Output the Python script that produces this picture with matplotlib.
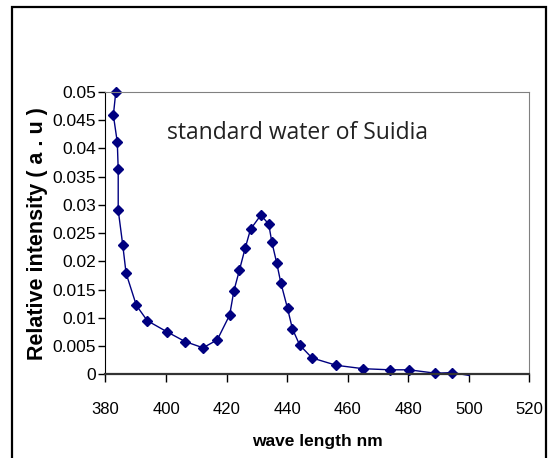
import matplotlib
matplotlib.use("Agg")
import matplotlib.pyplot as plt
from matplotlib.patches import Rectangle

# wavelength (nm) and relative intensity
wavelength = [383.4, 382.6, 383.9, 384.2, 384.2, 385.7, 386.8, 390.2, 393.8, 400.4,
              406.3, 412.2, 416.9, 421.0, 422.4, 424.2, 426.1, 427.9, 431.3, 433.9,
              434.9, 436.5, 437.9, 440.1, 441.7, 444.1, 448.2, 456.2, 465.0, 473.9,
              480.2, 488.9, 494.5, 500.1]
intensity = [0.0500, 0.0459, 0.0411, 0.0363, 0.0291, 0.0229, 0.0179, 0.0122, 0.0095, 0.0075,
             0.0058, 0.0047, 0.0061, 0.0105, 0.0148, 0.0184, 0.0223, 0.0257, 0.0282, 0.0266,
             0.0235, 0.0198, 0.0162, 0.0117, 0.0081, 0.0052, 0.0029, 0.0016, 0.0010, 0.0008,
             0.0008, 0.0002, 0.0003, -0.0002]

x_ticks = [380, 400, 420, 440, 460, 480, 500, 520]
y_ticks = [0, 0.005, 0.01, 0.015, 0.02, 0.025, 0.03, 0.035, 0.04, 0.045, 0.05]
y_tick_labels = ["0", "0.005", "0.01", "0.015", "0.02", "0.025", "0.03",
                 "0.035", "0.04", "0.045", "0.05"]

plt.rcParams['font.family'] = ['Liberation Sans', 'DejaVu Sans']

fig = plt.figure(figsize=(5.48, 4.58), dpi=100)
fig.patch.set_facecolor("white")
ax = fig.add_axes([0.1925, 0.1827, 0.7737, 0.6164])

navy = "#000080"
# line through every point, markers on all but the last one
ax.plot(wavelength, intensity, color=navy, linewidth=1.0, marker="D",
        markersize=5.5, markevery=list(range(len(wavelength) - 1)),
        markerfacecolor=navy, markeredgecolor=navy, clip_on=False)

ax.set_xlim(380, 520)
ax.set_ylim(0, 0.05)
ax.set_xticks(x_ticks)
ax.set_xticklabels([str(v) for v in x_ticks], fontsize=12)
ax.set_yticks(y_ticks)
ax.set_yticklabels(y_tick_labels, fontsize=12.5)
ax.tick_params(axis="x", direction="out", length=6, width=1, pad=14)
ax.tick_params(axis="y", direction="out", length=5, width=1, pad=2)

ax.spines["top"].set_color("#808080")
ax.spines["right"].set_color("#808080")
ax.spines["left"].set_color("black")
ax.spines["bottom"].set_color("#333333")
ax.spines["bottom"].set_linewidth(1.6)

ax.set_xlabel("wave length nm", fontsize=12.5, fontweight="bold", labelpad=12)
ax.set_ylabel("Relative intensity ( a . u )", fontsize=15.5, fontweight="bold", labelpad=3)

fig.text(0.305, 0.709, "standard water of Suidia", fontsize=16.5,
         family=["Open Sans", "DejaVu Sans"], color="#222222", va="center", ha="left")

# outer frame of the chart
fig.patches.append(Rectangle((11.5 / 548, -0.01), (546 - 11.5) / 548, 1 - 7.5 / 458 + 0.01,
                             transform=fig.transFigure, fill=False,
                             edgecolor="black", linewidth=1.6))

fig.savefig("out.png", dpi=100)
